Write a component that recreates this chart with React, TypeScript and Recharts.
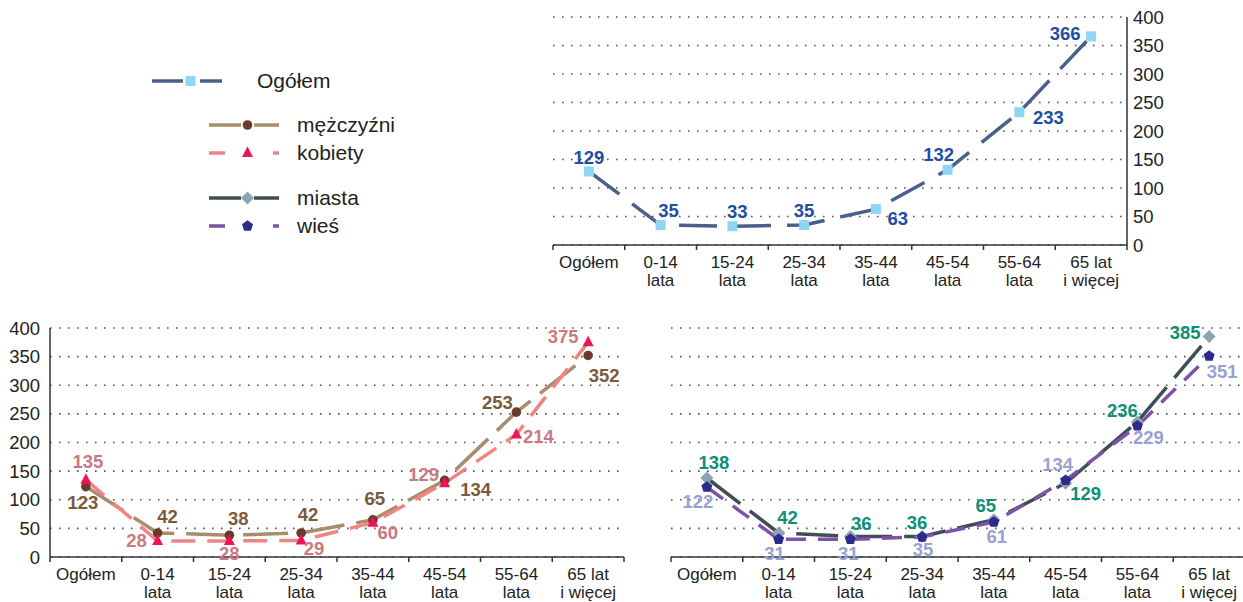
import React from "react";
import { LineChart, Line, XAxis, YAxis, CartesianGrid } from "recharts";

// categories (two-line tick labels split on \n)
const categories = [
  "Ogółem",
  "0-14\nlata",
  "15-24\nlata",
  "25-34\nlata",
  "35-44\nlata",
  "45-54\nlata",
  "55-64\nlata",
  "65 lat\ni więcej",
];
const ogolem = [129, 35, 33, 35, 63, 132, 233, 366];
const mezczyzni = [123, 42, 38, 42, 65, 134, 253, 352];
const kobiety = [135, 28, 28, 29, 60, 129, 214, 375];
const miasta = [138, 42, 36, 36, 65, 129, 236, 385];
const wies = [122, 31, 31, 35, 61, 134, 229, 351];
const yTicks = [0, 50, 100, 150, 200, 250, 300, 350, 400];

const data = categories.map((cat, i) => ({
  cat,
  ogolem: ogolem[i],
  mezczyzni: mezczyzni[i],
  kobiety: kobiety[i],
  miasta: miasta[i],
  wies: wies[i],
}));

// where each value label sits relative to its marker
const labelOffsets: Record<string, [number, number][]> = {
  ogolem: [[0, -14], [8, -15], [5, -15], [0, -15], [22, 9], [-9, -15], [29, 5], [-26, -3]],
  mezczyzni: [[-3, 16], [10, -16], [9, -17], [7, -18], [2, -21], [31, 9], [-19, -10], [16, 20]],
  kobiety: [[2, -18], [-21, 0], [0, 13], [13, 8], [15, 10], [-21, -9], [22, 2], [-25, -6]],
  miasta: [[7, -15], [9, -15], [11, -13], [-5, -14], [-8, -14], [20, 10], [-15, -11], [-24, -4]],
  wies: [[-9, 14], [-4, 14], [-2, 14], [1, 13], [3, 14], [-8, -16], [11, 12], [13, 15]],
};

const FONT = '"Liberation Sans", Arial, sans-serif';
const AXIS = "#333";
const TEXT = "#222";
const PLOT_W = 574;
const HALF_BAND = PLOT_W / 16;

type Shape = "square" | "circle" | "triangle" | "diamond" | "pentagon";

const series: Record<string, { name: string; line: string; marker: string; label: string; dash: string; shape: Shape }> = {
  ogolem: { name: "Ogółem", line: "#4a5f8c", marker: "#8ed6f4", label: "#1f4fa3", dash: "38 16", shape: "square" },
  mezczyzni: { name: "mężczyźni", line: "#a88c6c", marker: "#6b3a2c", label: "#7b5a3c", dash: "45 12", shape: "circle" },
  kobiety: { name: "kobiety", line: "#f08482", marker: "#ec1655", label: "#c87a80", dash: "24 12", shape: "triangle" },
  miasta: { name: "miasta", line: "#3e4e56", marker: "#8ca3b0", label: "#0f8f78", dash: "42 12", shape: "diamond" },
  wies: { name: "wieś", line: "#7d52a8", marker: "#2c2a8c", label: "#97a2d2", dash: "20 12", shape: "pentagon" },
};

function Marker({ shape, cx, cy, fill }: { shape: Shape; cx: number; cy: number; fill: string }) {
  switch (shape) {
    case "square":
      return <rect x={cx - 5} y={cy - 5} width={10} height={10} fill={fill} />;
    case "circle":
      return <circle cx={cx} cy={cy} r={4.8} fill={fill} />;
    case "triangle":
      return <polygon points={`${cx},${cy - 6.5} ${cx + 5.5},${cy + 4} ${cx - 5.5},${cy + 4}`} fill={fill} />;
    case "diamond":
      return <polygon points={`${cx},${cy - 6.5} ${cx + 6.5},${cy} ${cx},${cy + 6.5} ${cx - 6.5},${cy}`} fill={fill} />;
    default: {
      const pts = [0, 1, 2, 3, 4]
        .map((k) => {
          const a = -Math.PI / 2 + (k * 2 * Math.PI) / 5;
          return `${cx + 5.8 * Math.cos(a)},${cy + 5.8 * Math.sin(a)}`;
        })
        .join(" ");
      return <polygon points={pts} fill={fill} />;
    }
  }
}

const CategoryTick = (props: any) => {
  const { x, y, payload, index } = props;
  const lines = String(payload.value).split("\n");
  const last = index === categories.length - 1;
  return (
    <g>
      <line x1={x - HALF_BAND} x2={x - HALF_BAND} y1={y} y2={y + 5} stroke={AXIS} strokeWidth={1.5} />
      {last && <line x1={x + HALF_BAND} x2={x + HALF_BAND} y1={y} y2={y + 5} stroke={AXIS} strokeWidth={1.5} />}
      <text textAnchor="middle" fontSize={17} fill={TEXT} fontFamily={FONT}>
        {lines.map((l, i) => (
          <tspan key={i} x={x} y={y + 17.5 + 17.5 * i} dy="0.35em">
            {l}
          </tspan>
        ))}
      </text>
    </g>
  );
};

const makeLabel = (key: string) => (p: any) => {
  const x = p.x ?? p.viewBox?.x;
  const y = p.y ?? p.viewBox?.y;
  const [dx, dy] = labelOffsets[key][p.index] || [0, -15];
  return (
    <text
      x={x + dx}
      y={y + dy}
      dy="0.35em"
      textAnchor="middle"
      fontSize={18.5}
      fontWeight="bold"
      fill={series[key].label}
      fontFamily={FONT}
    >
      {p.value}
    </text>
  );
};

function Panel({
  keys,
  width,
  height,
  margin,
  yAxis,
  xHeight,
}: {
  keys: string[];
  width: number;
  height: number;
  margin: { top: number; right: number; left: number; bottom: number };
  yAxis: "left" | "right" | "none";
  xHeight: number;
}) {
  return (
    <LineChart width={width} height={height} data={data} margin={margin}>
      <CartesianGrid vertical={false} stroke="#555" strokeWidth={1.6} strokeDasharray="1.6 7.4" />
      <XAxis
        dataKey="cat"
        interval={0}
        padding={{ left: HALF_BAND, right: HALF_BAND }}
        tickLine={false}
        tickSize={0}
        tickMargin={0}
        axisLine={{ stroke: AXIS, strokeWidth: 1.5 }}
        tick={<CategoryTick />}
        height={xHeight}
      />
      <YAxis
        orientation={yAxis === "right" ? "right" : "left"}
        hide={yAxis === "none"}
        domain={[0, 400]}
        ticks={yTicks}
        interval={0}
        width={yAxis === "right" ? 50 : 45}
        tickLine={false}
        tickSize={0}
        tickMargin={yAxis === "right" ? 6 : 10}
        axisLine={{ stroke: AXIS, strokeWidth: 1.5 }}
        tick={{ fontSize: 18.5, fill: TEXT, fontFamily: FONT }}
      />
      {keys.map((k) => {
        const s = series[k];
        return (
          <Line
            key={k}
            type="linear"
            dataKey={k}
            stroke={s.line}
            strokeWidth={3.5}
            strokeDasharray={s.dash}
            isAnimationActive={false}
            activeDot={false}
            dot={(p: any) => (
              <g key={`${k}-${p.index}`}>
                <Marker shape={s.shape} cx={p.cx} cy={p.cy} fill={s.marker} />
              </g>
            )}
            label={makeLabel(k)}
          />
        );
      })}
    </LineChart>
  );
}

const legendRows = [
  { key: "ogolem", y: 81, x0: 152, textX: 257, dash: "31 17" },
  { key: "mezczyzni", y: 125, x0: 209, textX: 297, dash: "32 13" },
  { key: "kobiety", y: 153, x0: 209, textX: 297, dash: "16 48" },
  { key: "miasta", y: 198, x0: 209, textX: 297, dash: "32 13" },
  { key: "wies", y: 226, x0: 209, textX: 297, dash: "16 48" },
];

function Legend() {
  return (
    <svg width={420} height={260} style={{ position: "absolute", left: 0, top: 0 }}>
      {legendRows.map((r) => {
        const s = series[r.key];
        return (
          <g key={r.key}>
            <line x1={r.x0} x2={r.x0 + 70} y1={r.y} y2={r.y} stroke={s.line} strokeWidth={3.5} strokeDasharray={r.dash} />
            <Marker shape={s.shape} cx={r.x0 + 38.5} cy={r.y} fill={s.marker} />
            <text x={r.textX} y={r.y} dy="0.35em" fontSize={21} fill={TEXT} fontFamily={FONT}>
              {s.name}
            </text>
          </g>
        );
      })}
    </svg>
  );
}

export default function App() {
  return (
    <div
      style={{
        position: "absolute",
        left: 0,
        top: 0,
        width: 1243,
        height: 602,
        overflow: "hidden",
        background: "#fff",
        fontFamily: FONT,
      }}
    >
      <Legend />
      <div style={{ position: "absolute", left: 520, top: 0 }}>
        <Panel
          keys={["ogolem"]}
          width={680}
          height={300}
          margin={{ top: 17, right: 23, left: 33, bottom: 5 }}
          yAxis="right"
          xHeight={50}
        />
      </div>
      <div style={{ position: "absolute", left: 0, top: 310 }}>
        <Panel
          keys={["mezczyzni", "kobiety"]}
          width={640}
          height={292}
          margin={{ top: 18, right: 16, left: 5, bottom: 3 }}
          yAxis="left"
          xHeight={42}
        />
      </div>
      <div style={{ position: "absolute", left: 640, top: 310 }}>
        <Panel
          keys={["miasta", "wies"]}
          width={620}
          height={292}
          margin={{ top: 18, right: 15, left: 31, bottom: 3 }}
          yAxis="none"
          xHeight={42}
        />
      </div>
    </div>
  );
}
